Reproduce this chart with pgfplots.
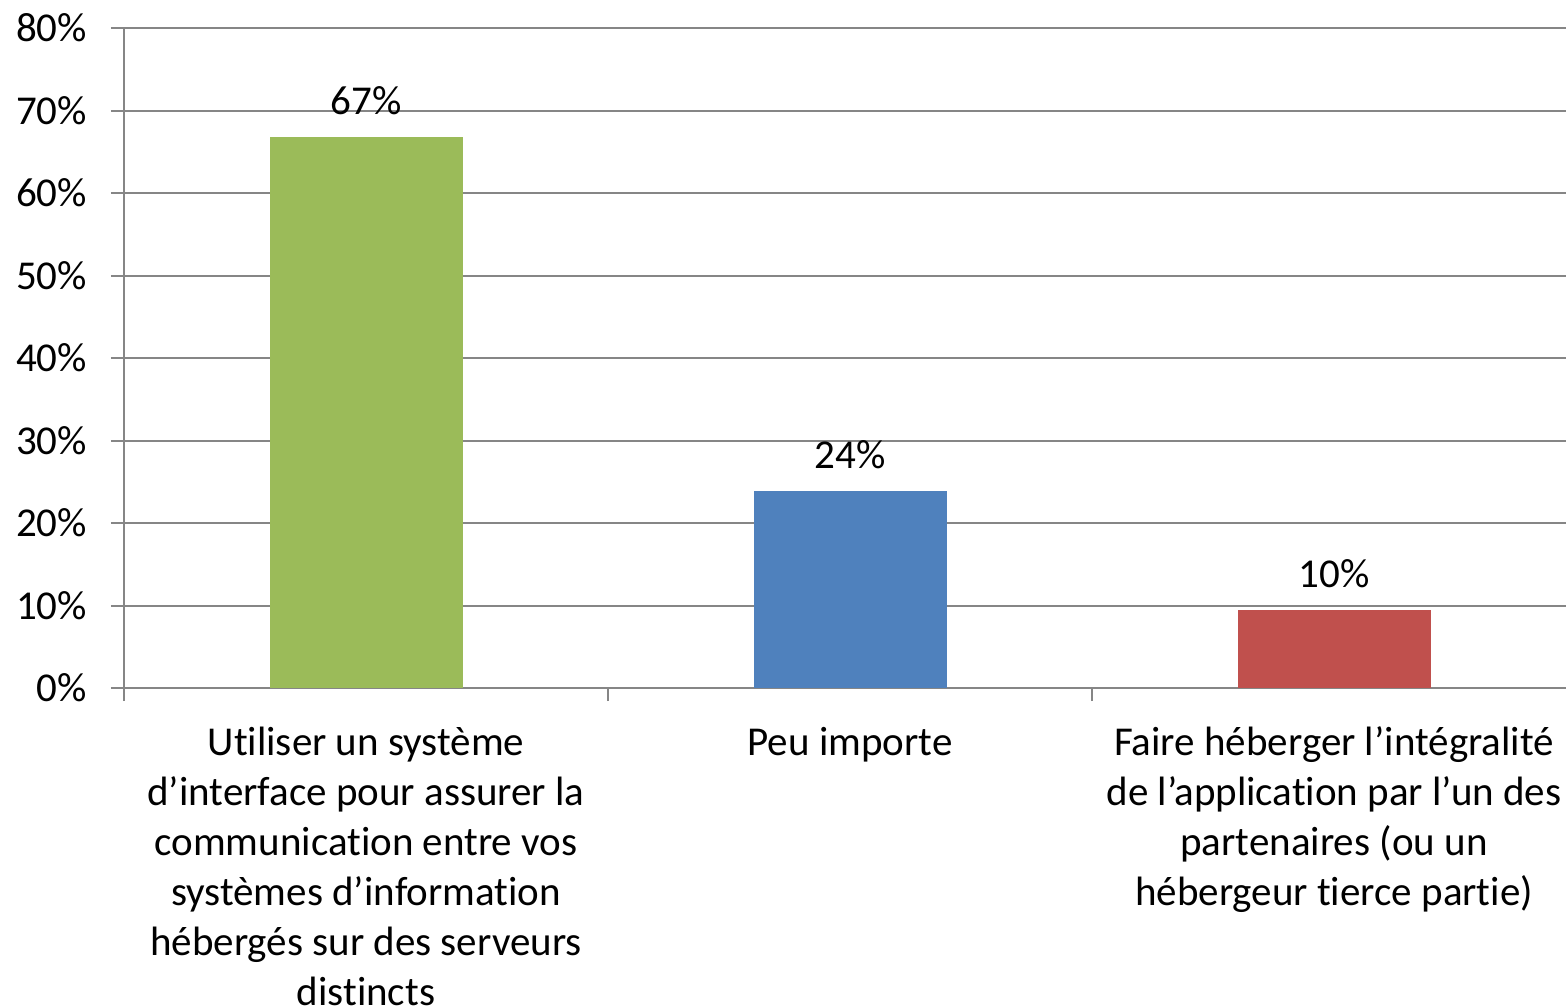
\documentclass[border=0pt]{standalone}
\usepackage{fontspec}
\setmainfont[Ligatures=NoCommon]{Carlito}
\usepackage{pgfplots}
\pgfplotsset{compat=1.18}
\definecolor{axisgray}{RGB}{134,134,134}
\definecolor{bgreen}{RGB}{155,187,89}
\definecolor{bblue}{RGB}{79,129,189}
\definecolor{bred}{RGB}{192,80,77}
\begin{document}
\fontsize{20.5}{25}\selectfont
\begin{tikzpicture}
\begin{axis}[
  at={(62pt,159.5pt)}, anchor=south west,
  scale only axis, width=726pt, height=330pt,
  xmin=-0.5, xmax=2.5, ymin=0, ymax=80,
  axis x line*=bottom, axis y line*=left,
  axis line style={-, draw=axisgray, line width=1pt},
  ytick={0,10,...,80},
  yticklabel={\pgfmathprintnumber{\tick}\%},
  /pgf/number format/assume math mode=true,
  ymajorgrids, grid style={draw=axisgray, line width=1pt},
  tick align=outside, major tick length=6.5pt,
  tick style={draw=axisgray, line width=1pt},
  xtick={-0.5,0.5,1.5},
  xticklabels={{Utiliser un système\\d’interface pour assurer la\\communication entre vos\\systèmes d’information\\hébergés sur des serveurs\\distincts},
    {Peu importe},
    {Faire héberger l’intégralité\\de l’application par l’un des\\partenaires (ou un\\hébergeur tierce partie)}},
  x tick label style={align=center, xshift=121pt, anchor=north, yshift=-6pt, font=\fontsize{20.5}{25}\selectfont},
  y tick label style={font=\fontsize{20.5}{25}\selectfont, xshift=-5pt},
  ybar, bar width=96.5pt, bar shift=0pt,
  nodes near coords, point meta=explicit symbolic,
  every node near coord/.append style={font=\fontsize{20.5}{25}\selectfont, black, yshift=4pt},
  clip=false,
]
\addplot[fill=bgreen, draw=none] coordinates {(0,66.8) [67\%]};
\addplot[fill=bblue, draw=none] coordinates {(1,23.9) [24\%]};
\addplot[fill=bred, draw=none] coordinates {(2,9.45) [10\%]};
\end{axis}
\pgfresetboundingbox
\path (0,0) rectangle (783pt,503.5pt);
\end{tikzpicture}
\end{document}
